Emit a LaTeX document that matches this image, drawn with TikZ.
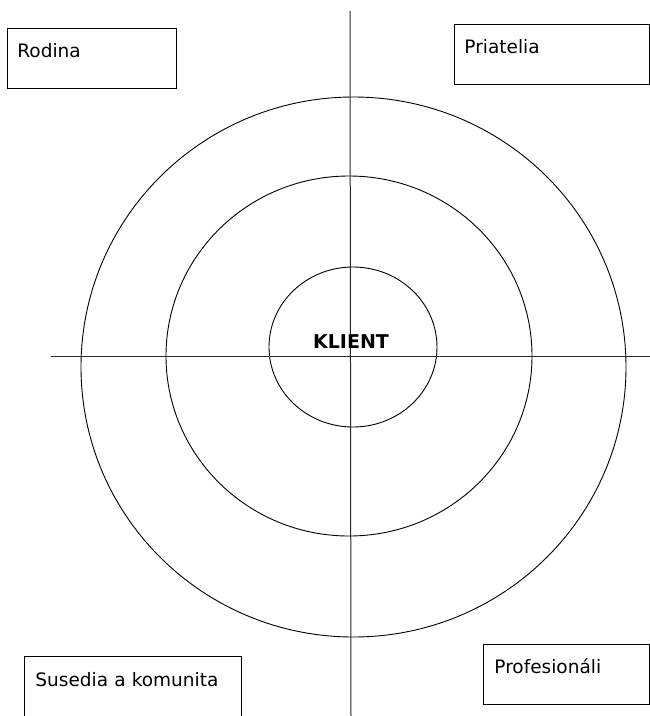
\documentclass[tikz,border=0pt]{standalone}
\usepackage{fontspec}
\setmainfont{DejaVu Sans}
\usetikzlibrary{positioning}

\begin{document}
\begin{tikzpicture}[
      x=1pt,y=-1pt,
      skupina/.style={
         rectangle,
         draw=black,
         line width=0.9pt,
         align=left,
         inner ysep=0pt,
         anchor=base west,
         font=\fontsize{18.5}{22}\selectfont
      },
      kruh/.style={draw=black,line width=0.9pt},
      os/.style={draw=black!85,line width=1pt},
      stred/.style={font=\fontsize{19}{23}\selectfont\bfseries,anchor=base}
    ]
    \useasboundingbox (0,0) rectangle (650,716);
    \coordinate (c1) at (353.5,367);
    \coordinate (c2) at (349,356);
    \coordinate (c3) at (353,347);
    \coordinate (hl) at (51,356);
    \coordinate (hr) at (650,356);
    \coordinate (vt) at (350,11);
    \coordinate (vb) at (351,716);
    \draw[kruh] (c1) ellipse [x radius=272.5, y radius=270];
    \draw[kruh] (c2) ellipse [x radius=183, y radius=180];
    \draw[kruh] (c3) ellipse [x radius=84, y radius=80];
    \draw[os] (hl) -- (hr);
    \draw[os] (vt) -- (vb);
    \node (klient) [stred] at (351,348) {KLIENT};
    \node (rodina) [skupina, inner xsep=10pt, text width=149pt, text height=29pt, text depth=31pt]
       at (7,57) {Rodina};
    \node (priatelia) [skupina, inner xsep=10pt, text width=175pt, text height=29pt, text depth=31pt]
       at (454,53) {Priatelia};
    \node (susedia) [skupina, inner xsep=11pt, text width=195pt, text height=30pt, text depth=36pt]
       at (24,686) {Susedia a komunita};
    \node (profesionali) [skupina, inner xsep=11pt, text width=144pt, text height=29pt, text depth=31pt]
       at (483,673) {Profesionáli};
\end{tikzpicture}
\end{document}
